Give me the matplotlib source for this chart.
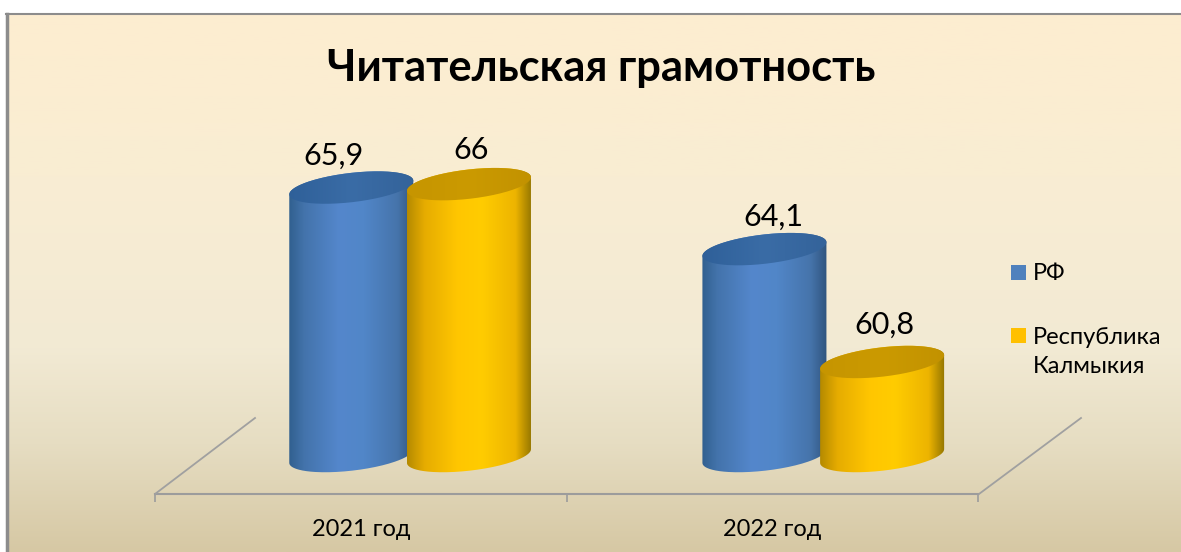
import matplotlib
matplotlib.use('Agg')
import matplotlib.pyplot as plt
from matplotlib.colors import LinearSegmentedColormap
from matplotlib.patches import Rectangle, PathPatch
from matplotlib.path import Path
import numpy as np

plt.rcParams['font.family'] = ['Lato', 'Open Sans', 'DejaVu Sans']

W, H = 1181, 552

title = 'Читательская грамотность'
years = ['2021 год', '2022 год']
series_names = ['РФ', 'Республика\nКалмыкия']
rf = [65.9, 64.1]
kalmykia = [66, 60.8]
value_labels = [['65,9', '64,1'], ['66', '60,8']]
colors = ['#4F81BD', '#FFC000']

# pixel helper, the reference is laid out in screen pixels
def rect(x0, y0, x1, y1):
    return [x0/W, 1-y1/H, (x1-x0)/W, (y1-y0)/H]

fig = plt.figure(figsize=(W/100, H/100), dpi=100, facecolor='white')

# background panel
bg = fig.add_axes(rect(7, 15, W, H))
bg_cm = LinearSegmentedColormap.from_list('bg', [(0, '#FDEDD0'), (0.3, '#F9EDD3'), (0.62, '#F2EAD4'),
                                                 (0.8, '#E6DDC2'), (1, '#D6C8A4')])
bg.imshow(np.linspace(0, 1, 256).reshape(-1, 1), cmap=bg_cm, aspect='auto', extent=(0, 1, 0, 1))
bg.axis('off')
fig.add_artist(plt.Line2D([6.5/W, 6.5/W], [0, 1-14/H], color='#8C8C8C', lw=2.5))
fig.add_artist(plt.Line2D([6/W, 1], [1-14/H, 1-14/H], color='#8C8C8C', lw=1.5))

# value scale: floor of the chart is at 494 px, 34.2 px per unit
ax = fig.add_axes(rect(155, 100, 978, 494), facecolor='none')
x_lim = (0, 2)
y_lim = (56.94, 68.46)
base = 58.05
centers = [0.62, 1.624]
offset = 0.143
half_w = 0.1507
shear = 0.2
minor = 0.43

blue_cm = LinearSegmentedColormap.from_list('b', [(0, '#31608F'), (0.12, '#4373AB'), (0.4, '#5487CC'),
                                                  (0.6, '#5186C8'), (0.87, '#4674AB'), (1, '#30557F')])
gold_cm = LinearSegmentedColormap.from_list('y', [(0, '#B58A00'), (0.14, '#E6AC00'), (0.4, '#FFC600'),
                                                  (0.6, '#FFCC00'), (0.87, '#EDB400'), (1, '#947600')])
cap_cm = [LinearSegmentedColormap.from_list('bc', ['#2F6099', '#3A6CA6', '#34639A']),
          LinearSegmentedColormap.from_list('yc', ['#C69500', '#CB9A00', '#C29200'])]
side_cm = [blue_cm, gold_cm]


def rim(xc, yc, t):
    return xc + half_w*np.cos(t), yc + shear*np.cos(t) + minor*np.sin(t)


def cylinder(xc, value, k):
    xb, yb = rim(xc, base, np.linspace(np.pi, 2*np.pi, 100))
    xt, yt = rim(xc, value, np.linspace(0, np.pi, 100))
    side = Path(np.column_stack([np.r_[xb, xt], np.r_[yb, yt]]), closed=False)
    extent = (xc-half_w, xc+half_w, base-1, value+1)
    im = ax.imshow(np.linspace(0, 1, 256).reshape(1, -1), cmap=side_cm[k], aspect='auto',
                   extent=extent, zorder=3+k)
    im.set_clip_path(PathPatch(side, transform=ax.transData))
    ex, ey = rim(xc, value, np.linspace(0, 2*np.pi, 200))
    cap = Path(np.column_stack([ex, ey]))
    im = ax.imshow(np.linspace(0, 1, 256).reshape(1, -1), cmap=cap_cm[k], aspect='auto',
                   extent=extent, zorder=3+k)
    im.set_clip_path(PathPatch(cap, transform=ax.transData))


label_shift = [[(-18, 32), (9, 32)], [(2, 34), (2, 37)]]
for k, vals in enumerate([rf, kalmykia]):
    for i, v in enumerate(vals):
        xc = centers[i] + (2*k-1)*offset
        cylinder(xc, v, k)
        ax.annotate(value_labels[k][i], (xc, v), xytext=label_shift[k][i], textcoords='offset pixels',
                    ha='center', va='center', fontsize=22, color='black', zorder=10)

ax.set_xlim(x_lim)
ax.set_ylim(y_lim)
ax.set_yticks([])
for s in ['top', 'left', 'right']:
    ax.spines[s].set_visible(False)
ax.spines['bottom'].set_color('#9C9C9C')
ax.spines['bottom'].set_linewidth(1.5)
ax.set_xticks([0, 1, 2], labels=['', '', ''])
ax.set_xticks([0.5, 1.5], labels=years, minor=True)
ax.tick_params(axis='x', which='major', length=5.5, width=1.2, color='#9C9C9C')
ax.tick_params(axis='x', which='minor', length=0, labelsize=17, pad=18)

# floor edges going back
fig.add_artist(plt.Line2D([155/W, 255/W], [1-494/H, 1-418/H], color='#A0A0A0', lw=1.3))
fig.add_artist(plt.Line2D([979/W, 1081/W], [1-494/H, 1-418/H], color='#A0A0A0', lw=1.3))

fig.text(601/W, 1-68/H, title, ha='center', va='center', fontsize=31.3, fontweight='bold', color='black')

# legend
fig.add_artist(Rectangle((1011/W, 1-280/H), 15/W, 15/H, facecolor=colors[0], lw=0, transform=fig.transFigure))
fig.add_artist(Rectangle((1011/W, 1-343/H), 15/W, 15/H, facecolor=colors[1], lw=0, transform=fig.transFigure))
fig.text(1033/W, 1-274/H, series_names[0], ha='left', va='center', fontsize=17)
fig.text(1033/W, 1-352/H, series_names[1], ha='left', va='center', fontsize=17, linespacing=1.52)

fig.savefig('out.png', dpi=100)
